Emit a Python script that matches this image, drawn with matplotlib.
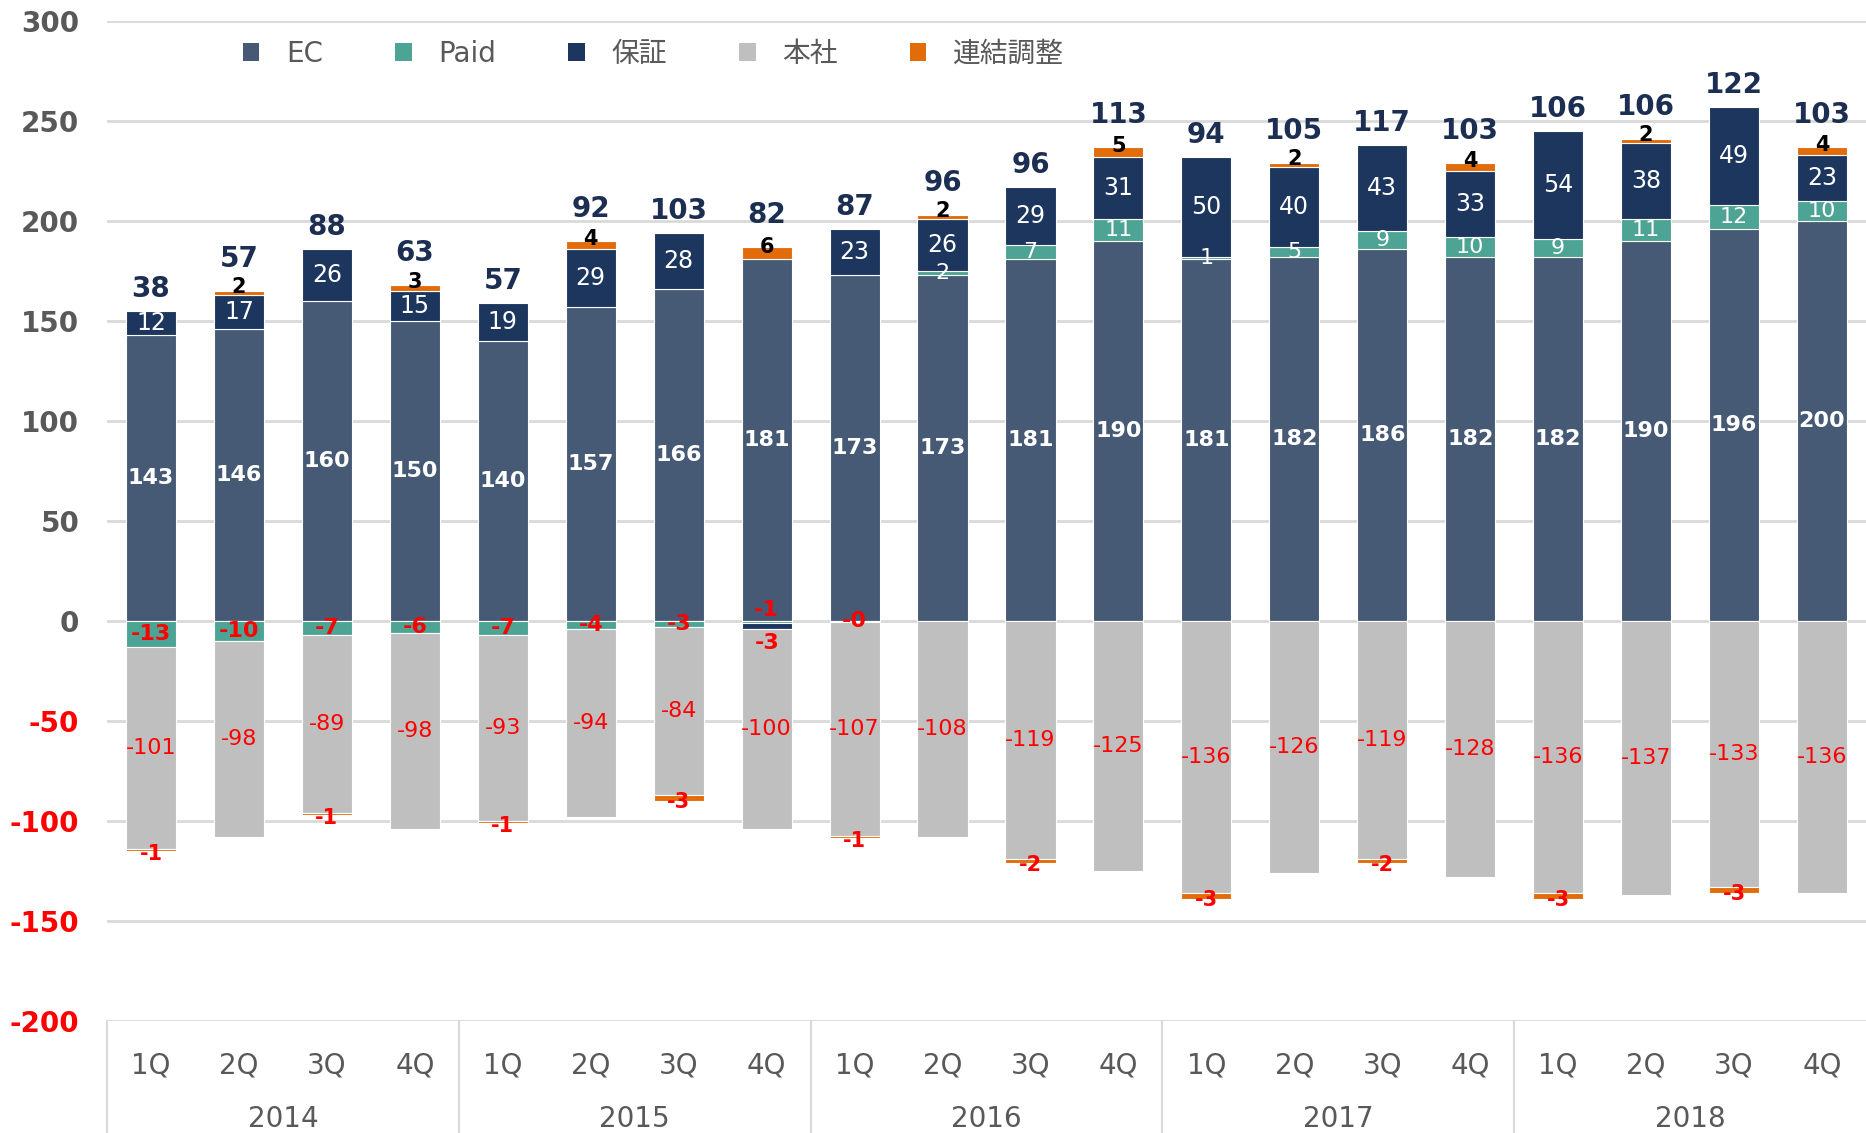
import numpy as np
import matplotlib
matplotlib.use("Agg")
import matplotlib.pyplot as plt
from matplotlib.patches import Patch
from matplotlib import transforms

plt.rcParams['font.family'] = ['DejaVu Sans', 'Noto Sans CJK JP']
plt.rcParams['axes.unicode_minus'] = False

# data
quarters = ['1Q', '2Q', '3Q', '4Q'] * 5
years = ['2014', '2015', '2016', '2017', '2018']
series_names = ['EC', 'Paid', '保証', '本社', '連結調整']
ec = [143, 146, 160, 150, 140, 157, 166, 181, 173, 173, 181, 190, 181, 182, 186, 182, 182, 190, 196, 200]
paid = [-13, -10, -7, -6, -7, -4, -3, -1, -0.3, 2, 7, 11, 1, 5, 9, 10, 9, 11, 12, 10]
hosho = [12, 17, 26, 15, 19, 29, 28, -3, 23, 26, 29, 31, 50, 40, 43, 33, 54, 38, 49, 23]
honsha = [-101, -98, -89, -98, -93, -94, -84, -100, -107, -108, -119, -125, -136, -126, -119, -128, -136, -137, -133, -136]
renketsu = [-1, 2, -1, 3, -1, 4, -3, 6, -1, 2, -2, 5, -3, 2, -2, 4, -3, 2, -3, 4]
totals = [38, 57, 88, 63, 57, 92, 103, 82, 87, 96, 96, 113, 94, 105, 117, 103, 106, 106, 122, 103]

colors = ['#465A75', '#4DA394', '#1C365E', '#BFBFBF', '#E36C0A']
RED = '#FF0000'
NAVY = '#1C2F52'
GRAY = '#595959'

fig = plt.figure(figsize=(18.66, 11.33), dpi=100)
ax = fig.add_axes([107 / 1866, 1 - 1021 / 1133, 1 - 107 / 1866, 1000 / 1133])

x = np.arange(len(quarters))
width = 0.57
pos_base = np.zeros(len(x))
neg_base = np.zeros(len(x))
tops = {}
for name, vals, c in zip(series_names, [ec, paid, hosho, honsha, renketsu], colors):
    v = np.array(vals, dtype=float)
    bottom = np.where(v >= 0, pos_base, neg_base)
    ax.bar(x, v, width, bottom=bottom, color=c, edgecolor='white', linewidth=0.8, zorder=3)
    tops[name] = (bottom, v)
    pos_base = pos_base + np.where(v >= 0, v, 0)
    neg_base = neg_base + np.where(v < 0, v, 0)

def fmt(v):
    return f"{v:.0f}"

for i in range(len(x)):
    # EC
    b, v = tops['EC']
    ax.text(i, b[i] + v[i] / 2, fmt(v[i]), ha='center', va='center', color='white',
            fontsize=16, fontweight='bold', zorder=5)
    # Paid
    b, v = tops['Paid']
    pv, hv = v[i], tops['保証'][1][i]
    if pv < 0 and hv < 0:
        ax.annotate(fmt(pv), (i, 0), xytext=(0, 1), textcoords='offset points', ha='center',
                    va='bottom', color=RED, fontsize=16, fontweight='bold', zorder=5)
    elif pv < 0:
        ax.text(i, b[i] + pv / 2, fmt(pv), ha='center', va='center', color=RED,
                fontsize=16, fontweight='bold', zorder=5)
    else:
        ax.text(i, b[i] + pv / 2, fmt(pv), ha='center', va='center', color='white',
                fontsize=16, zorder=5)
    # 保証
    b, v = tops['保証']
    if hv < 0:
        ax.annotate(fmt(hv), (i, b[i] + hv), xytext=(0, -3), textcoords='offset points', ha='center',
                    va='top', color=RED, fontsize=16, fontweight='bold', zorder=5)
    else:
        ax.text(i, b[i] + hv / 2, fmt(hv), ha='center', va='center', color='white',
                fontsize=17, zorder=5)
    # 本社
    b, v = tops['本社']
    ax.text(i, b[i] + v[i] / 2, fmt(v[i]), ha='center', va='center', color=RED,
            fontsize=16, zorder=5)
    # 連結調整
    b, v = tops['連結調整']
    rv = v[i]
    ax.annotate(fmt(rv), (i, b[i] + rv / 2), xytext=(0, 4 if rv > 0 else -3),
                textcoords='offset points', ha='center', va='center',
                color=('black' if rv > 0 else RED), fontsize=15, fontweight='bold', zorder=5)
    # total
    off = 13 if rv > 0 else 6
    ax.annotate(str(totals[i]), (i, pos_base[i]), xytext=(0, off), textcoords='offset points',
                ha='center', va='bottom', color=NAVY, fontsize=20, fontweight='bold', zorder=5)

ax.set_xlim(-0.5, len(x) - 0.5)
ax.set_ylim(-200, 300)
ax.set_yticks(range(-200, 301, 50))
ax.yaxis.grid(True, color='#D9D9D9', linewidth=2)
ax.set_axisbelow(True)
for s in ax.spines.values():
    s.set_visible(False)
ax.tick_params(axis='y', length=0, pad=20, labelsize=20)
for lab, val in zip(ax.get_yticklabels(), range(-200, 301, 50)):
    lab.set_color(RED if val < 0 else GRAY)
    lab.set_fontweight('bold')

ax.set_xticks(x)
ax.set_xticklabels(quarters)
ax.tick_params(axis='x', length=0, pad=22, labelsize=20, labelcolor=GRAY)

trans = transforms.blended_transform_factory(ax.transData, ax.transAxes)
for k, yr in enumerate(years):
    ax.text(4 * k + 1.5, -0.098, yr, transform=trans, ha='center', va='center',
            fontsize=20, color=GRAY)
for k in range(len(years)):
    ax.plot([4 * k - 0.5, 4 * k - 0.5], [0, -0.12], transform=trans, color='#D9D9D9',
            linewidth=1.5, clip_on=False)

handles = [Patch(facecolor=c, edgecolor='none') for c in colors]
ax.legend(handles, series_names, loc='center left', bbox_to_anchor=(0.063, 0.967), ncol=5,
          frameon=False, fontsize=20, labelcolor=GRAY, handlelength=0.6, handleheight=0.6,
          handletextpad=0.95, columnspacing=2.6)

fig.savefig('out.png', dpi=100)
